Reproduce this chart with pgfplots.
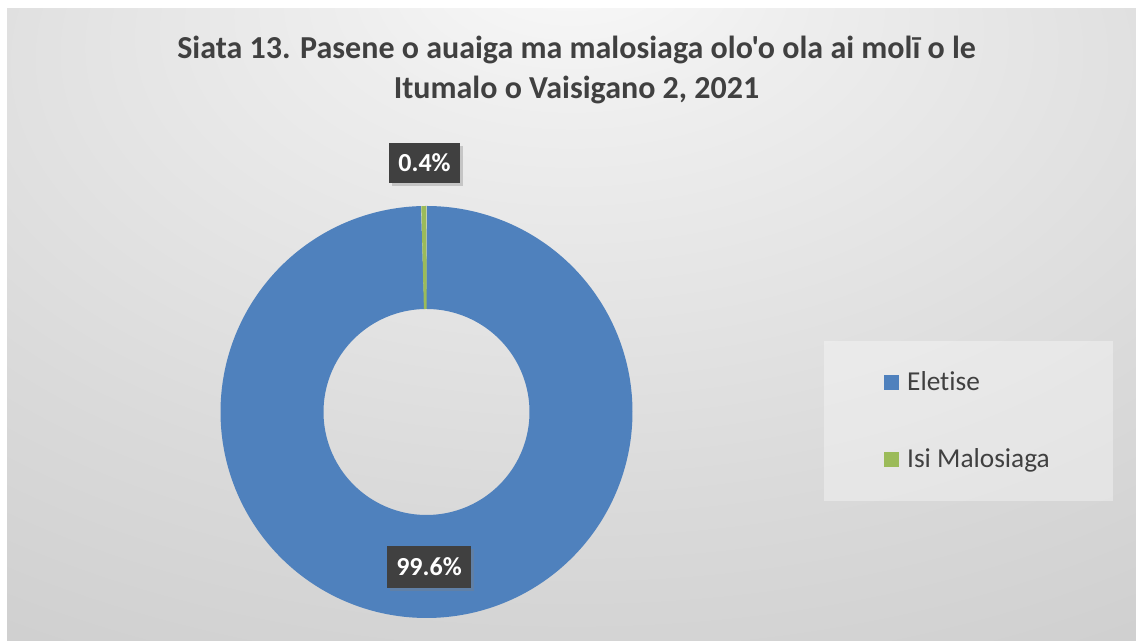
\documentclass[border=0pt]{standalone}
\usepackage{pgfplots}
\pgfplotsset{compat=1.18}
\usepackage{fontspec}
\setmainfont{Carlito}[Ligatures={TeX,NoCommon}]
\newfontfamily\plainfont{Carlito}[Ligatures=NoCommon]
\usetikzlibrary{shadows}
\definecolor{cblue}{HTML}{4F81BD}
\definecolor{cgreen}{HTML}{9BBB59}
\definecolor{ctext}{HTML}{404040}
\definecolor{cbox}{HTML}{404040}
\definecolor{g0}{RGB}{250,250,250}
\definecolor{g1}{RGB}{238,238,238}
\definecolor{g2}{RGB}{218,218,218}
\definecolor{g3}{RGB}{198,198,198}
\pgfdeclareradialshading{bgshade}{\pgfpoint{0bp}{30bp}}{color(0bp)=(g0); color(10bp)=(g1); color(32bp)=(g2); color(58bp)=(g3); color(80bp)=(g3)}
% data (percent)
\def\vA{99.6}
\def\vB{0.4}
\pgfmathsetmacro{\aTop}{90}
\pgfmathsetmacro{\aMid}{90-3.6*\vA}
\pgfmathsetmacro{\aEnd}{90-3.6*(\vA+\vB)}
\begin{document}
\begin{tikzpicture}
\begin{axis}[
  x=0.75pt, y=0.75pt,
  xmin=0, xmax=1136, ymin=0, ymax=641,
  hide axis, clip=false,
  legend style={at={(axis cs:968.5,220)}, anchor=center,
    draw=none, fill=white, fill opacity=0.35, text opacity=1,
    font=\plainfont\fontsize{20.5}{24}\selectfont, text=ctext,
    inner xsep=45pt, inner ysep=21pt,
    row sep=38pt, cells={anchor=west}},
  legend cell align=left,
]
\shade[shading=bgshade] (axis cs:7,0) rectangle (axis cs:1136,632);
\addplot[draw=cblue, line width=77.25pt, line cap=butt, line join=round,
  domain=\aMid:\aTop, samples=400,
  legend image code/.code={\fill[cblue, draw=none, line width=0pt, fill opacity=1] (0pt,-5.6pt) rectangle (11.25pt,5.6pt); \path[draw=none, fill=none] (0pt,0pt) -- (15pt,0pt);}]
  ({426.5+154.5*cos(x)},{229+154.5*sin(x)});
\addlegendentry{Eletise}
\addplot[draw=cgreen, line width=77.25pt, line cap=butt, line join=round,
  domain=\aEnd:\aMid, samples=10,
  legend image code/.code={\fill[cgreen, draw=none, line width=0pt, fill opacity=1] (0pt,-5.6pt) rectangle (11.25pt,5.6pt); \path[draw=none, fill=none] (0pt,0pt) -- (15pt,0pt);}]
  ({426.5+154.5*cos(x)},{229+154.5*sin(x)});
\addlegendentry{Isi Malosiaga}
\node[fill=cbox, text=white, font=\plainfont\bfseries\fontsize{19.5}{23}\selectfont,
  minimum width=53.25pt, minimum height=30pt, inner sep=0pt,
  drop shadow={shadow xshift=2pt, shadow yshift=-2pt, opacity=0.35}]
  at (axis cs:424.5,478) {0.4\%};
\node[fill=cbox, text=white, font=\plainfont\bfseries\fontsize{19.5}{23}\selectfont,
  minimum width=63pt, minimum height=31.5pt, inner sep=0pt,
  drop shadow={shadow xshift=2pt, shadow yshift=-2pt, opacity=0.35}]
  at (axis cs:429,74) {99.6\%};
\node[align=center, text=ctext, font=\plainfont\bfseries\fontsize{24}{30}\selectfont,
  anchor=base] at (axis cs:576.5,542) {Siata 13. Pasene o auaiga ma malosiaga olo'o ola ai molī o le\\Itumalo o Vaisigano 2, 2021};
\end{axis}
\pgfresetboundingbox
\path (current axis.south west) rectangle (current axis.north east);
\end{tikzpicture}
\end{document}
